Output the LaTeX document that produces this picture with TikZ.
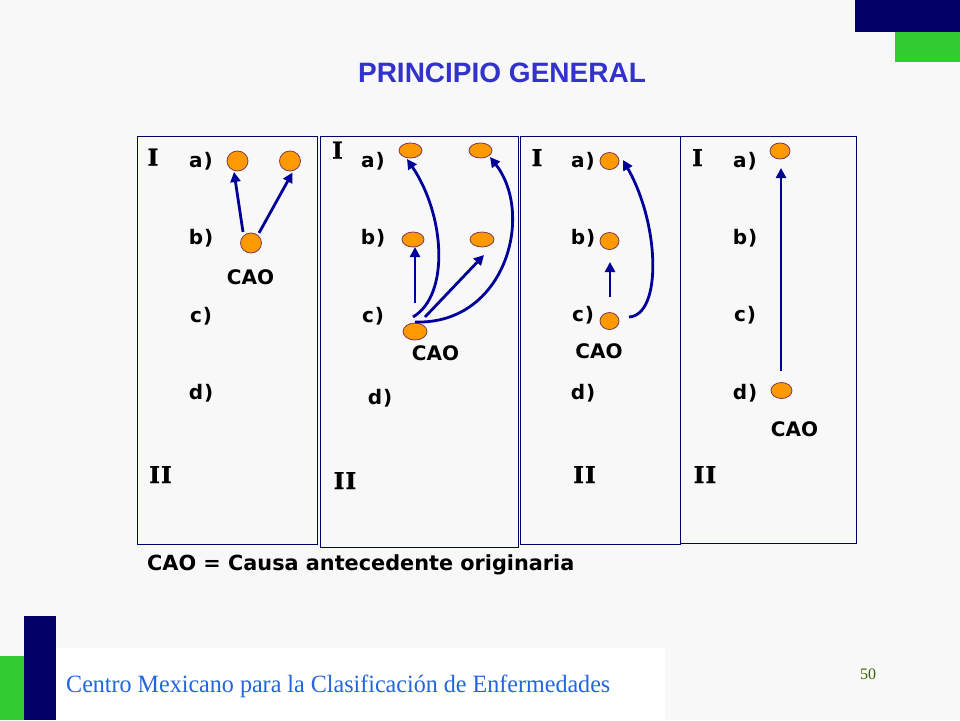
\documentclass[tikz,border=0pt]{standalone}
\usepackage{fontspec}
\usetikzlibrary{arrows.meta}
\newfontfamily\vfont{DejaVu Sans}
\newfontfamily\rnfont{DejaVu Serif}[BoldFeatures={FakeBold=1.2}]
\newfontfamily\tifont{Liberation Sans}
\newfontfamily\tmfont{Liberation Serif}
\definecolor{bgc}{HTML}{F8F8F8}
\definecolor{navyc}{HTML}{000066}
\definecolor{arrc}{HTML}{000099}
\definecolor{orc}{HTML}{FF9900}
\definecolor{orline}{HTML}{7A3C50}
\definecolor{titc}{HTML}{3333CC}
\definecolor{grc}{HTML}{33CC33}
\definecolor{footc}{HTML}{2266DD}
\definecolor{numc}{HTML}{336600}
\tikzset{
  lbl/.style={font=\vfont\bfseries\fontsize{20}{20}\selectfont, anchor=base, inner sep=0pt},
  rn/.style={font=\rnfont\bfseries\fontsize{23}{23}\selectfont, anchor=base, inner sep=0pt},
  panel/.style={draw=navyc, line width=1pt},
  dot/.style={ellipse, draw=orline, fill=orc, line width=0.8pt, inner sep=0pt},
  arr/.style={draw=arrc, line width=2.8pt, -{Triangle[length=10pt,width=10pt]}},
}
\usetikzlibrary{shapes.geometric}
\begin{document}
\begin{tikzpicture}[x=1pt,y=-1pt]
\useasboundingbox (0,0) rectangle (960,720);
\fill[bgc] (0,0) rectangle (960,720);
% decorations
\fill[navyc] (855,0) rectangle (960,32);
\fill[grc] (895,32) rectangle (960,62);
\fill[white] (56,648) rectangle (665,720);
\fill[grc] (0,656) rectangle (24,720);
\fill[navyc] (24,616) rectangle (56,720);
% title
\node[font=\tifont\bfseries\fontsize{28}{28}\selectfont, text=titc, anchor=base, inner sep=0pt] (title) at (502,82) {PRINCIPIO GENERAL};
% panels
\draw[panel] (137,136) rectangle (317.5,544) node[coordinate] (p1) {};
\draw[panel] (320,136) rectangle (518.5,547.5) node[coordinate] (p2) {};
\draw[panel] (520.5,136) rectangle (680.5,544) node[coordinate] (p3) {};
\draw[panel] (680.5,136) rectangle (856.5,543.5) node[coordinate] (p4) {};
% ---------- panel 1
\node[rn] (I1) at (153,165.5) {I};
\node[lbl] (a1) at (201,167.5) {a\kern1pt)};
\node[lbl] (b1) at (201,244.5) {b\kern1pt)};
\node[lbl] (c1) at (201,322) {c\kern1pt)};
\node[lbl] (d1) at (201,399.5) {d\kern1pt)};
\node[lbl] (cao1) at (250.5,284) {CAO};
\node[rn] (II1) at (160.5,483) {I\kern1pt I};
\node[dot, minimum width=21pt, minimum height=20pt] (o1a) at (237.5,161) {};
\node[dot, minimum width=21pt, minimum height=20pt] (o1b) at (290,161) {};
\node[dot, minimum width=21pt, minimum height=20pt] (o1c) at (251,243) {};
\coordinate (s1a) at (243,232); \coordinate (e1a) at (234,172);
\coordinate (s1b) at (259,233); \coordinate (e1b) at (292.5,172.5);
\draw[arr] (s1a) -- (e1a);
\draw[arr] (s1b) -- (e1b);
% ---------- panel 2
\node[rn] (I2) at (337.5,158.5) {I};
\node[lbl] (a2) at (373,167.5) {a\kern1pt)};
\node[lbl] (b2) at (373,244.5) {b\kern1pt)};
\node[lbl] (c2) at (373,322) {c\kern1pt)};
\node[lbl] (d2) at (380,404) {d\kern1pt)};
\node[lbl] (cao2) at (435.5,360.5) {CAO};
\node[rn] (II2) at (345,489) {I\kern1pt I};
\node[dot, minimum width=23pt, minimum height=15pt] (o2a) at (410.5,150.5) {};
\node[dot, minimum width=23pt, minimum height=15pt] (o2b) at (480.5,150.5) {};
\node[dot, minimum width=22pt, minimum height=15pt] (o2c) at (413,239.5) {};
\node[dot, minimum width=24pt, minimum height=15pt] (o2d) at (482,239.5) {};
\node[dot, minimum width=24pt, minimum height=17pt] (o2e) at (415,331.5) {};
\coordinate (s2a) at (415,303); \coordinate (e2a) at (415,247);
\coordinate (s2b) at (425,317); \coordinate (e2b) at (484,255);
\coordinate (s2c) at (413,317); \coordinate (e2c) at (407,159);
\coordinate (s2d) at (415,322); \coordinate (e2d) at (490,157);
\draw[arr] (s2a) -- (e2a);
\draw[arr] (s2b) -- (e2b);
\draw[arr] (s2c) .. controls (450,295) and (445,215) .. (e2c);
\draw[arr] (s2d) .. controls (505,325) and (535,215) .. (e2d);
% ---------- panel 3
\node[rn] (I3) at (537,166) {I};
\node[lbl] (a3) at (583,167.5) {a\kern1pt)};
\node[lbl] (b3) at (583,244.5) {b\kern1pt)};
\node[lbl] (c3) at (583,321.5) {c\kern1pt)};
\node[lbl] (d3) at (583,399.5) {d\kern1pt)};
\node[lbl] (cao3) at (599,358) {CAO};
\node[rn] (II3) at (584.5,483) {I\kern1pt I};
\node[dot, minimum width=19pt, minimum height=17pt] (o3a) at (609.5,161) {};
\node[dot, minimum width=19pt, minimum height=17pt] (o3b) at (609.5,241) {};
\node[dot, minimum width=19pt, minimum height=17pt] (o3c) at (609.5,321) {};
\coordinate (s3a) at (610,297); \coordinate (e3a) at (610,262);
\coordinate (s3b) at (629,317); \coordinate (e3b) at (623,160);
\draw[arr] (s3a) -- (e3a);
\draw[arr] (s3b) .. controls (662,315) and (660,225) .. (e3b);
% ---------- panel 4
\node[rn] (I4) at (697.5,166) {I};
\node[lbl] (a4) at (745,167.5) {a\kern1pt)};
\node[lbl] (b4) at (745,244.5) {b\kern1pt)};
\node[lbl] (c4) at (745,321.5) {c\kern1pt)};
\node[lbl] (d4) at (745,399.5) {d\kern1pt)};
\node[lbl] (cao4) at (794.5,436) {CAO};
\node[rn] (II4) at (705,483) {I\kern1pt I};
\node[dot, minimum width=20pt, minimum height=16pt] (o4a) at (780,151) {};
\node[dot, minimum width=21pt, minimum height=16pt] (o4d) at (781.5,390.5) {};
\coordinate (s4a) at (781,371); \coordinate (e4a) at (781,168);
\draw[arr] (s4a) -- (e4a);
% legend
\node[lbl, anchor=base west, font=\vfont\bfseries\fontsize{20.8}{20.8}\selectfont] (legend) at (147,570) {CAO = Causa antecedente originaria};
% footer
\node[anchor=base west, inner sep=0pt, text=footc] (footer) at (66,692) {\resizebox{544pt}{17.5pt}{\tmfont Centro Mexicano para la Clasificación de Enfermedades}};
\node[anchor=base, inner sep=0pt, text=numc, font=\tmfont\fontsize{16}{16}\selectfont] (pnum) at (868,679) {50};
\end{tikzpicture}
\end{document}
